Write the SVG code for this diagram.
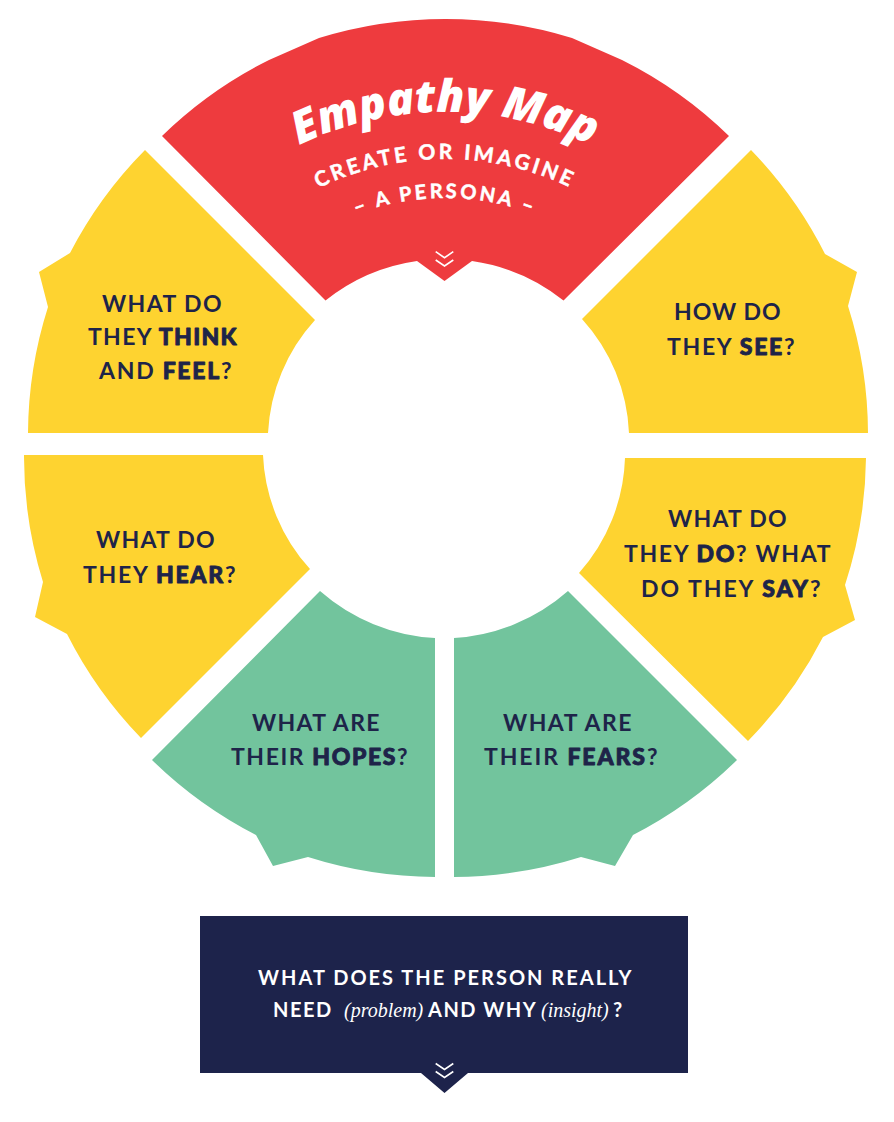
<svg xmlns="http://www.w3.org/2000/svg" width="894" height="1122" viewBox="0 0 894 1122">
<style>
.red{fill:#EE3B3E}
.yel{fill:#FED330}
.grn{fill:#72C49D}
.navy{fill:#1D234B}
.q{font-family:Lato,'Liberation Sans',sans-serif;font-size:23px;font-weight:700;fill:#1E2449;letter-spacing:1.5px}
.b{font-weight:900;stroke:#1E2449;stroke-width:0.9px;stroke-linejoin:round}
.w{font-family:Lato,'Liberation Sans',sans-serif;font-size:20px;font-weight:700;fill:#FFFFFF;letter-spacing:1.5px}
.s{font-family:'Liberation Serif',serif;font-style:italic;font-weight:400;letter-spacing:0}
.title{font-family:'Open Sans','DejaVu Sans',sans-serif;font-style:italic;font-weight:800;font-size:45px;fill:#FFFFFF}
.sub{font-family:Lato,'Liberation Sans',sans-serif;font-weight:700;fill:#FFFFFF;stroke:#FFFFFF;stroke-width:0.5px}
.chev{fill:none;stroke:#FFFFFF;stroke-width:1.6}
</style>
<defs>
<path id="arcTitle" d="M109,448 A336,336 0 0 1 781,448"/>
<path id="arcSub" d="M156,448 A289,289 0 0 1 734,448"/>
<path id="arcSub2" d="M195,448 A250,250 0 0 1 695,448"/>
</defs>

<g id="connectors"></g>

<g id="node-persona">
<path class="red" d="M162,136 A426,426 0 0 1 269,60 L319,38 A430,430 0 0 1 572,38 L622,60 A426,426 0 0 1 729,136 L563.5,300.5 A190,190 0 0 0 472,261 L444.5,281 L417,261 A190,190 0 0 0 325.5,300.5 Z"/>
<text class="title" text-anchor="middle"><textPath href="#arcTitle" startOffset="50%">Empathy Map</textPath></text>
<text class="sub" font-size="21" letter-spacing="3.2" text-anchor="middle"><textPath href="#arcSub" startOffset="50%">CREATE OR IMAGINE</textPath></text>
<text class="sub" font-size="20" letter-spacing="3" text-anchor="middle"><textPath href="#arcSub2" startOffset="50%">– A PERSONA –</textPath></text>
<polyline class="chev" points="435.7,251.7 444.5,257.7 453.3,251.7"/>
<polyline class="chev" points="435.7,260 444.5,266 453.3,260"/>
</g>

<g id="node-think-feel">
<path class="yel" d="M145,150 A422,422 0 0 0 70,253 L39,272 L48,307 A422,422 0 0 0 28,433 L268,433 A181,181 0 0 1 315,320 Z"/>
<text class="q" x="102" y="312" textLength="121" lengthAdjust="spacing">WHAT DO</text>
<text class="q" x="88" y="345" textLength="150" lengthAdjust="spacing">THEY <tspan class="b">THINK</tspan></text>
<text class="q" x="99" y="379" textLength="134" lengthAdjust="spacing">AND <tspan class="b">FEEL</tspan>?</text>
</g>

<g id="node-see">
<path class="yel" d="M751,150 A422,422 0 0 1 825,254 L857,272 L848,306 A422,422 0 0 1 868,433 L629,433 A181,181 0 0 0 582,319 Z"/>
<text class="q" x="674" y="320" textLength="108" lengthAdjust="spacing">HOW DO</text>
<text class="q" x="667" y="355" textLength="129" lengthAdjust="spacing">THEY <tspan class="b">SEE</tspan>?</text>
</g>

<g id="node-hear">
<path class="yel" d="M24,455 L263,455 A181,181 0 0 0 310,569 L141,738 A422,422 0 0 1 67,634 L35,617 L43,582 A422,422 0 0 1 24,455 Z"/>
<text class="q" x="96" y="548" textLength="120" lengthAdjust="spacing">WHAT DO</text>
<text class="q" x="83" y="583" textLength="154" lengthAdjust="spacing">THEY <tspan class="b">HEAR</tspan>?</text>
</g>

<g id="node-do-say">
<path class="yel" d="M625,458 L866,458 A422,422 0 0 1 845,585 L855,620 L823,637 A422,422 0 0 1 748,741 L579,573 A181,181 0 0 0 625,458 Z"/>
<text class="q" x="668" y="527" textLength="120" lengthAdjust="spacing">WHAT DO</text>
<text class="q" x="624" y="562" textLength="208" lengthAdjust="spacing">THEY <tspan class="b">DO</tspan>? WHAT</text>
<text class="q" x="641" y="597" textLength="181" lengthAdjust="spacing">DO THEY <tspan class="b">SAY</tspan>?</text>
</g>

<g id="node-hopes">
<path class="grn" d="M320,591 A190,190 0 0 0 435,638 L435,877 A429,429 0 0 1 308,857 L273,866 L256,835 A429,429 0 0 1 152,760 Z"/>
<text class="q" x="252" y="731" textLength="129" lengthAdjust="spacing">WHAT ARE</text>
<text class="q" x="231" y="765" textLength="178" lengthAdjust="spacing">THEIR <tspan class="b">HOPES</tspan>?</text>
</g>

<g id="node-fears">
<path class="grn" d="M568,591 L737,760 A429,429 0 0 1 633,835 L615,866 L581,857 A429,429 0 0 1 454,877 L454,638 A190,190 0 0 0 568,591 Z"/>
<text class="q" x="503" y="731" textLength="130" lengthAdjust="spacing">WHAT ARE</text>
<text class="q" x="484" y="765" textLength="175" lengthAdjust="spacing">THEIR <tspan class="b">FEARS</tspan>?</text>
</g>

<g id="node-need">
<path class="navy" d="M200,916 L688,916 L688,1073 L468,1073 L444.5,1093 L421,1073 L200,1073 Z"/>
<text class="w" x="258" y="985" textLength="375" lengthAdjust="spacing">WHAT DOES THE PERSON REALLY</text>
<text class="w" y="1017"><tspan x="273">NEED</tspan><tspan class="s" x="344" font-size="20">(problem)</tspan><tspan x="428">AND WHY</tspan><tspan class="s" x="541" font-size="20">(insight)</tspan><tspan x="613">?</tspan></text>
<polyline class="chev" points="435.7,1063.5 444.5,1069.5 453.3,1063.5"/>
<polyline class="chev" points="435.7,1071.5 444.5,1077.5 453.3,1071.5"/>
</g>
</svg>
